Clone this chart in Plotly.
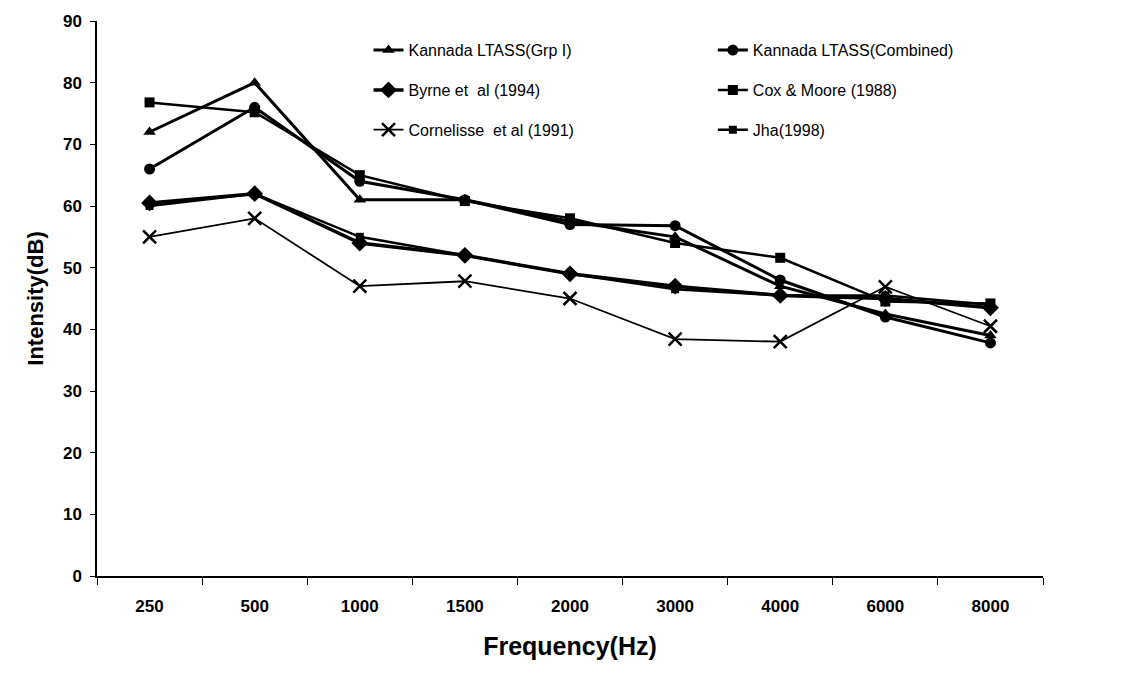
import plotly.graph_objects as go

freqs = ["250", "500", "1000", "1500", "2000", "3000", "4000", "6000", "8000"]

grp1 = [72, 80, 61, 61, 57.5, 55, 47, 42.5, 39]
combined = [66, 76, 64, 61, 57, 56.8, 48, 42, 37.8]
byrne = [60.5, 62, 54, 52, 49, 47, 45.5, 45, 43.5]
cox = [76.8, 75.2, 65, 60.8, 58, 54, 51.6, 44.5, 44.2]
cornelisse = [55, 58, 47, 47.8, 45, 38.4, 38, 46.9, 40.5]
jha = [60, 62, 55, 52, 49, 46.5, 45.5, 45.5, 44]

names = ["Kannada LTASS(Grp I)", "Kannada LTASS(Combined)", "Byrne et  al (1994)",
         "Cox & Moore (1988)", "Cornelisse  et al (1991)", "Jha(1998)"]

fig = go.Figure()

def add(y, name, symbol, size, lw, legend, mlw=0):
    fig.add_trace(go.Scatter(
        x=freqs, y=y, name=name, mode="lines+markers",
        legend=legend, legendgroup=name,
        line=dict(color="black", width=lw),
        marker=dict(symbol=symbol, size=size, color="black",
                    line=dict(color="black", width=mlw)),
    ))

add(grp1, names[0], "triangle-up", 11, 3, "legend")
add(combined, names[1], "circle", 11, 3, "legend2")
add(byrne, names[2], "diamond", 13, 3.5, "legend")
add(cox, names[3], "square", 10, 2.5, "legend2")
add(cornelisse, names[4], "x-thin-open", 13, 1.8, "legend", 2.5)
add(jha, names[5], "square", 8, 2.5, "legend2")

legfont = dict(size=16, family="Liberation Sans, Arial", color="black")
common = dict(orientation="v", yanchor="top", y=0.978, xanchor="left",
              font=legfont, tracegroupgap=16, bgcolor="rgba(0,0,0,0)")

fig.update_layout(
    width=1141, height=673,
    margin=dict(l=97, r=98, t=21, b=97),
    plot_bgcolor="white", paper_bgcolor="white",
    font=dict(family="Liberation Sans, Arial, sans-serif", color="black"),
    showlegend=True,
    legend=dict(x=0.287, **common),
    legend2=dict(x=0.651, **common),
    xaxis=dict(
        type="category", tickson="boundaries", ticks="outside", ticklen=7,
        tickcolor="black", showline=True, linecolor="black", linewidth=1.5,
        showgrid=False, zeroline=False, ticklabelstandoff=14,
        tickfont=dict(size=17),
        title=dict(text="<b>Frequency(Hz)</b>", font=dict(size=25), standoff=22),
        range=[-0.5, 8.5],
    ),
    yaxis=dict(
        range=[0, 90], dtick=10, ticks="outside", ticklen=5, tickcolor="black",
        showline=True, linecolor="black", linewidth=1.5,
        showgrid=False, zeroline=False, ticklabelstandoff=5,
        tickfont=dict(size=17),
        title=dict(text="<b>Intensity(dB)</b>", font=dict(size=22), standoff=13),
    ),
)

fig.update_xaxes(tickprefix="<b>", ticksuffix="</b>")
fig.update_yaxes(tickprefix="<b>", ticksuffix="</b>")

fig.write_html("out.html")
